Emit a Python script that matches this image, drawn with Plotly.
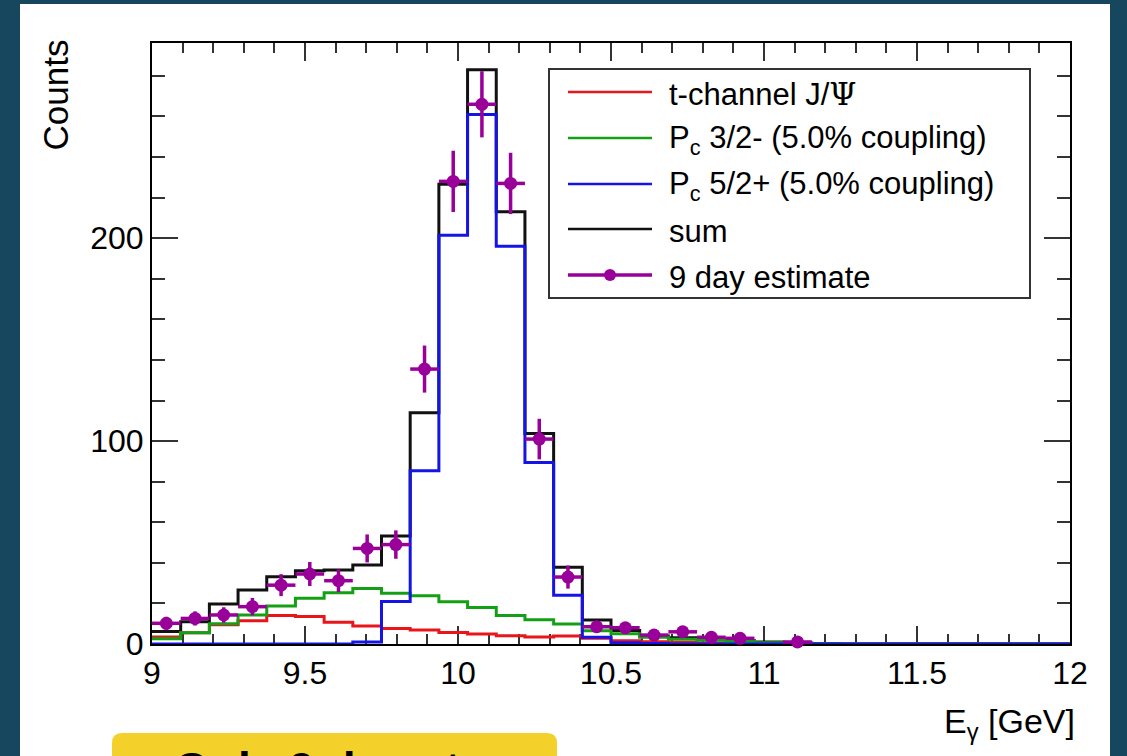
import numpy as np
import plotly.graph_objects as go

# ---------------- data ----------------
x_lo, x_hi, n_bins = 9.0, 12.0, 32          # E_gamma histogram binning [GeV]

t_channel = [3.5, 5.5, 9.5, 11.5, 14.0, 13.5, 10.7, 8.9, 7.7, 6.9, 5.7, 4.9, 4.1, 3.5, 4.0, 2.8,
             1.6, 1.1, 0.8, 0.5, 0.3, 0.2, 0.1, 0, 0, 0, 0, 0, 0, 0, 0, 0]
pc_32m = [2.6, 5.5, 10.0, 14.3, 18.7, 22.5, 25.3, 27.4, 25.0, 23.8, 20.8, 18.0, 14.0, 12.0, 9.9, 6.5,
          5.0, 3.3, 2.3, 1.8, 1.2, 0.6, 0.3, 0.1, 0, 0, 0, 0, 0, 0, 0, 0]
pc_52p = [0, 0, 0, 0, 0, 0, 0, 1.0, 21.0, 85.4, 201.5, 261.0, 196.0, 89.5, 24.0, 3.3,
          0.6, 0.2, 0, 0, 0, 0, 0, 0, 0, 0, 0, 0, 0, 0, 0, 0]
sum_hist = [6.1, 11.0, 19.7, 26.6, 33.2, 36.1, 36.5, 38.9, 53.2, 114.0, 226.6, 283.0, 213.0, 103.8, 37.8, 11.8,
            6.6, 3.9, 3.1, 2.3, 1.6, 1.0, 0.5, 0.2, 0, 0, 0, 0, 0, 0, 0, 0]
estimate = [10.2, 12.6, 14.3, 18.4, 29.0, 34.5, 31.2, 47.1, 49.0, 135.5, 228.0, 266.0, 227.0, 101.0, 33.0, 8.5,
            8.0, 4.4, 6.0, 3.3, 2.8, None, 1.0, None, None, None, None, None, None, None, None, None]
estimate_err = [3.2, 3.5, 3.8, 4.3, 5.4, 5.9, 5.6, 6.9, 7.0, 11.6, 15.1, 16.3, 15.1, 10.0, 5.7, 2.9,
                2.8, 2.1, 2.4, 1.8, 1.7, None, 1.0, None, None, None, None, None, None, None, None, None]

legend_labels = ['t-channel J/<span style="font-family:DejaVu Serif">Ψ</span>',
                 "P<sub>c</sub> 3/2- (5.0% coupling)", "P<sub>c</sub> 5/2+ (5.0% coupling)",
                 "sum", "9 day estimate"]
y_max = 296.2

# ---------------- styling ----------------
RED, GREEN, BLUE, BLACK, MAG = "#e8151b", "#14a014", "#1414e6", "#111111", "#990099"
FONT = "Liberation Sans, Arial, Helvetica, sans-serif"
W, H = 1127, 756
L, R, T, B = 152, 1070, 43, 644
PW, PH = R - L, B - T


def px(xp):
    return (xp - L) / PW


def py(yp):
    return (B - yp) / PH


edges = np.linspace(x_lo, x_hi, n_bins + 1)
centers = 0.5 * (edges[:-1] + edges[1:])
half_w = 0.5 * (edges[1] - edges[0])


def step(vals):
    return list(vals) + [vals[-1]]


fig = go.Figure()
for vals, col in [(sum_hist, BLACK), (t_channel, RED), (pc_32m, GREEN), (pc_52p, BLUE)]:
    fig.add_trace(go.Scatter(x=edges, y=step(vals), mode="lines",
                             line=dict(color=col, width=3, shape="hv"), showlegend=False,
                             hoverinfo="skip"))

sel = [i for i, v in enumerate(estimate) if v is not None]
fig.add_trace(go.Scatter(
    x=[centers[i] for i in sel], y=[estimate[i] for i in sel], mode="markers",
    marker=dict(color=MAG, size=13),
    error_x=dict(type="constant", value=half_w, color=MAG, thickness=3.5, width=0),
    error_y=dict(type="data", array=[estimate_err[i] for i in sel], color=MAG, thickness=3.5, width=0),
    cliponaxis=False, showlegend=False))

axis_common = dict(showgrid=False, zeroline=False, showline=True, linecolor="black", linewidth=2,
                   mirror="ticks", ticks="inside", tickcolor="#333", tickwidth=1.5,
                   tickfont=dict(family=FONT, size=32, color="black"), layer="below traces")
fig.update_xaxes(range=[x_lo, x_hi], tick0=9, dtick=0.5, ticklen=18,
                 minor=dict(ticks="inside", dtick=0.1, ticklen=10, tickcolor="#333", tickwidth=1.5),
                 **axis_common)
fig.update_yaxes(range=[0, y_max], tick0=0, dtick=100, ticklen=26,
                 minor=dict(ticks="inside", dtick=20, ticklen=13, tickcolor="#333", tickwidth=1.5),
                 **axis_common)

shapes = []
annotations = []
# white slide panel
shapes.append(dict(type="rect", xref="paper", yref="paper", x0=px(20), x1=px(1110), y0=py(770), y1=py(4),
                   fillcolor="white", line=dict(width=0), layer="below"))
# yellow box at the bottom (rounded top corners)
x0b, x1b, y0b, y1b, rr = px(112), px(557), py(790), py(733), 10
rx, ry = rr / PW, rr / PH
path = (f"M {x0b},{y0b} L {x0b},{y1b - ry} Q {x0b},{y1b} {x0b + rx},{y1b} "
        f"L {x1b - rx},{y1b} Q {x1b},{y1b} {x1b},{y1b - ry} L {x1b},{y0b} Z")
shapes.append(dict(type="path", xref="paper", yref="paper", path=path,
                   fillcolor="#f4d12a", line=dict(width=0), layer="below"))
annotations.append(dict(xref="paper", yref="paper", x=px(172), y=py(741), xanchor="left", yanchor="top",
                        text="<b>Only 9 days to</b>", showarrow=False,
                        font=dict(family=FONT, size=46, color="black")))

# legend box (drawn by hand in ROOT style)
shapes.append(dict(type="rect", xref="paper", yref="paper", x0=px(549), x1=px(1030), y0=py(298), y1=py(69),
                   fillcolor="white", line=dict(color="#333", width=2), layer="above"))
leg_y = [92, 138, 184, 229, 275]
leg_cols = [RED, GREEN, BLUE, BLACK, MAG]
for lab, yy, col in zip(legend_labels, leg_y, leg_cols):
    shapes.append(dict(type="line", xref="paper", yref="paper", x0=px(568), x1=px(652), y0=py(yy), y1=py(yy),
                       line=dict(color=col, width=2.5 if col != MAG else 3.5), layer="above"))
    annotations.append(dict(xref="paper", yref="paper", x=px(667), y=py(yy + 2), xanchor="left",
                            yanchor="middle", text=lab, showarrow=False,
                            font=dict(family=FONT, size=31, color="black")))
shapes.append(dict(type="circle", xref="paper", yref="paper", x0=px(604), x1=px(616), y0=py(281), y1=py(269),
                   fillcolor=MAG, line=dict(color=MAG, width=0), layer="above"))

# axis titles (ROOT places them at the axis ends)
annotations.append(dict(xref="paper", yref="paper", x=px(1077), y=py(700), xanchor="right", yanchor="top",
                        text="E<sub>γ</sub> [GeV]", showarrow=False,
                        font=dict(family=FONT, size=34, color="black")))
annotations.append(dict(xref="paper", yref="paper", x=px(55), y=py(38), xanchor="center", yanchor="top",
                        text="Counts", textangle=-90, showarrow=False,
                        font=dict(family=FONT, size=35, color="black")))

fig.update_layout(width=W, height=H, autosize=False,
                  margin=dict(l=L, r=W - R, t=T, b=H - B, pad=0),
                  paper_bgcolor="#17475f", plot_bgcolor="white",
                  shapes=shapes, annotations=annotations, showlegend=False)

fig.write_html("out.html")
